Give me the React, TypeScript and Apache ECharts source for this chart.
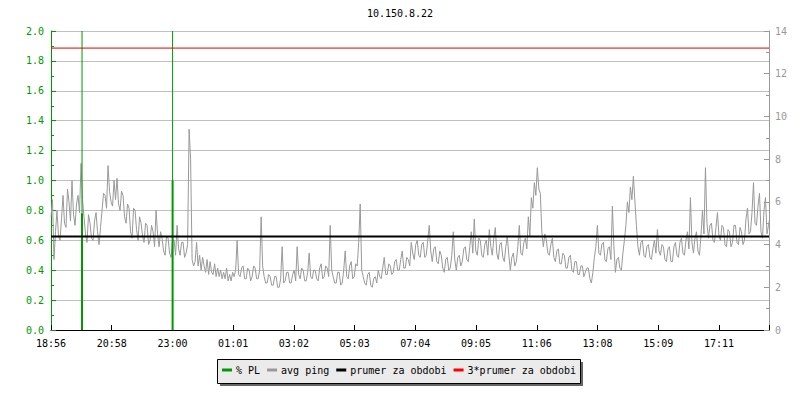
import React, { useEffect, useRef } from "react";
import * as echarts from "echarts";

const title = "10.150.8.22";
const tickLabels = ["18:56", "20:58", "23:00", "01:01", "03:02", "05:03", "07:04", "09:05", "11:06", "13:08", "15:09", "17:11"];
const tickStepMin = 121.36;
const spanMin = 1435;
const sampleStepMin = 3;

// avg ping (ms), one sample every 3 minutes from 18:56
const avgPing = [
  5.3, 6.1, 3.3, 4.6, 5.6, 4.4, 4.2, 5.2, 6.3, 5.0,
  4.8, 6.6, 6.0, 5.1, 7.0, 5.4, 4.9, 5.9, 6.3, 5.5,
  7.8, 6.1, 5.3, 4.5, 4.1, 5.4, 5.0, 4.3, 4.2, 5.1,
  5.5, 4.6, 4.0, 4.8, 5.6, 6.4, 6.3, 5.7, 7.7, 6.5,
  6.0, 5.8, 7.0, 6.1, 7.1, 5.9, 5.6, 6.5, 6.3, 5.3,
  5.0, 5.9, 5.7, 4.6, 4.3, 5.7, 5.6, 4.7, 4.2, 5.3,
  5.0, 4.4, 4.1, 5.0, 4.9, 4.0, 4.2, 4.9, 4.6, 3.9,
  5.6, 4.5, 3.9, 4.6, 4.3, 3.7, 3.5, 4.4, 4.3, 3.6,
  3.4, 4.2, 4.2, 3.5, 4.9, 3.8, 3.5, 4.1, 4.1, 3.4,
  3.6, 4.0, 9.4, 8.0, 3.3, 3.0, 3.2, 4.1, 3.0, 3.5,
  2.8, 3.4, 3.0, 2.7, 3.3, 2.6, 3.2, 2.7, 2.6, 3.1,
  2.5, 2.9, 2.5, 2.8, 2.4, 2.7, 2.4, 2.9, 2.3, 2.6,
  2.3, 2.7, 2.5, 2.8, 4.2, 2.6, 2.5, 2.9, 3.0, 2.4,
  2.4, 2.9, 2.8, 2.3, 2.5, 3.0, 2.9, 2.4, 2.4, 2.8,
  5.3, 3.0, 2.5, 2.2, 2.2, 2.6, 2.5, 2.1, 2.1, 2.5,
  2.5, 2.0, 2.0, 2.4, 3.9, 2.2, 2.3, 2.7, 2.7, 2.2,
  2.2, 2.6, 2.8, 2.3, 3.9, 2.6, 2.4, 2.9, 2.8, 2.3,
  2.3, 2.7, 3.6, 2.5, 2.4, 2.8, 2.8, 2.4, 2.3, 2.9,
  3.1, 2.4, 2.5, 3.0, 2.9, 2.5, 4.9, 2.8, 2.5, 2.2,
  2.2, 2.7, 2.7, 2.1, 2.2, 2.8, 3.7, 2.5, 2.4, 3.0,
  3.2, 2.4, 2.5, 3.1, 3.0, 4.1, 5.9, 2.8, 2.5, 2.2,
  2.1, 2.6, 2.7, 2.1, 2.0, 2.4, 2.5, 2.2, 2.8, 2.5,
  2.4, 2.9, 3.4, 2.6, 2.6, 3.1, 3.0, 2.6, 2.7, 3.2,
  3.3, 2.8, 2.8, 3.3, 3.7, 2.9, 2.9, 3.4, 3.3, 3.0,
  4.1, 3.6, 3.3, 4.0, 4.2, 3.5, 3.4, 4.0, 4.1, 3.4,
  3.5, 4.2, 4.9, 3.7, 3.2, 3.8, 3.9, 3.2, 3.1, 3.7,
  3.5, 2.9, 2.7, 3.3, 3.4, 2.8, 2.9, 3.5, 4.6, 3.3,
  2.8, 3.4, 3.5, 3.0, 3.2, 3.8, 3.9, 3.3, 3.2, 3.9,
  4.6, 3.6, 5.2, 3.7, 3.5, 4.3, 4.2, 3.5, 3.4, 4.0,
  4.2, 3.5, 4.7, 3.9, 3.5, 4.3, 4.8, 3.6, 3.3, 4.0,
  4.1, 3.4, 3.2, 3.9, 4.4, 3.5, 2.8, 3.4, 3.6, 3.0,
  3.2, 3.9, 4.9, 3.6, 3.5, 4.1, 4.3, 3.8, 5.3, 4.4,
  6.2, 5.7, 6.9, 6.3, 7.6, 6.6, 6.4, 4.6, 3.9, 4.5,
  4.2, 3.6, 3.5, 4.0, 4.3, 3.4, 3.2, 3.7, 3.8, 3.1,
  3.1, 3.6, 3.5, 2.9, 2.9, 3.4, 3.5, 2.8, 2.7, 3.2,
  3.2, 2.6, 2.6, 3.0, 3.0, 2.5, 2.7, 2.9, 2.9, 2.4,
  2.2, 2.7, 3.4, 3.9, 4.9, 3.6, 3.5, 4.0, 4.1, 3.3,
  3.2, 3.8, 3.9, 3.3, 5.8, 3.9, 2.7, 3.3, 3.4, 2.9,
  2.8, 3.6, 4.2, 4.9, 6.0, 5.5, 6.7, 6.1, 7.2, 6.0,
  4.9, 3.9, 3.5, 4.1, 4.2, 3.5, 3.4, 3.9, 4.0, 3.4,
  3.3, 3.8, 4.2, 3.6, 4.7, 3.7, 3.5, 4.0, 3.9, 3.3,
  3.2, 3.8, 3.9, 3.2, 3.2, 3.9, 4.1, 3.5, 3.4, 4.1,
  4.3, 3.6, 3.5, 4.2, 4.6, 3.8, 6.2, 4.1, 3.6, 4.3,
  4.6, 3.7, 3.5, 4.4, 5.6, 4.5, 7.6, 5.0, 4.3, 4.9,
  5.0, 4.2, 4.1, 4.8, 5.5, 4.4, 4.2, 4.9, 4.8, 4.0,
  3.9, 4.7, 4.6, 3.9, 4.1, 4.9, 4.9, 4.1, 4.0, 4.8,
  4.6, 4.0, 4.2, 5.2, 5.7, 4.5, 4.6, 5.5, 6.9, 5.0,
  4.9, 5.8, 6.4, 4.6, 4.3, 5.6, 6.2, 4.5, 4.9, 5.3,
];

// packet loss events (minutes from start, %)
const plTimes = [62, 243];
const plPeak = [2.0, 2.0];
const plSecond = [0.78, 1.0];

const prumer = 4.38;
const prumer3 = 13.2;

const legendNames = ["% PL", "avg ping", "prumer za obdobi", "3*prumer za obdobi"];

const FONT = "DejaVu Sans Mono";
const GREEN = "#009900";
const GRAY = "#999999";

export default function App() {
  const ref = useRef<HTMLDivElement>(null);
  useEffect(() => {
    if (!ref.current) return;
    const chart = echarts.init(ref.current, undefined, { renderer: "svg" });
    const pingData = avgPing.map((v, i) => [i * sampleStepMin, v]);
    const plSeries: any[] = [];
    plTimes.forEach((t, i) => {
      plSeries.push({
        name: "% PL",
        type: "line",
        yAxisIndex: 0,
        data: [[t, 0], [t, plPeak[i]]],
        showSymbol: false,
        symbol: "none",
        lineStyle: { color: GREEN, width: 1 },
        itemStyle: { color: GREEN },
        z: 3,
      });
      plSeries.push({
        name: "% PL",
        type: "line",
        yAxisIndex: 0,
        data: [[t, 0], [t, plSecond[i]]],
        showSymbol: false,
        symbol: "none",
        lineStyle: { color: GREEN, width: 2 },
        itemStyle: { color: GREEN },
        z: 3,
      });
    });
    const option = {
      animation: false,
      backgroundColor: "#ffffff",
      title: {
        text: title,
        left: "center",
        top: 3,
        textStyle: { fontFamily: FONT, fontSize: 10, fontWeight: "normal", color: "#000" },
      },
      grid: { left: 51, right: 31, top: 31, bottom: 70, containLabel: false },
      graphic: [
        { type: "rect", left: 220, top: 362, shape: { width: 363, height: 24 }, style: { fill: "#666666" }, z: 0 },
        { type: "rect", left: 217, top: 359, shape: { width: 363, height: 24 }, style: { fill: "#ebebeb", stroke: "#000", lineWidth: 1 }, z: 1 },
      ],
      legend: {
        data: legendNames,
        left: 222,
        top: 365,
        padding: 0,
        icon: "rect",
        itemWidth: 10,
        itemHeight: 3,
        itemGap: 7,
        z: 5,
        textStyle: { fontFamily: FONT, fontSize: 10, color: "#000", padding: [0, 0, 0, -1] },
      },
      xAxis: {
        type: "value",
        min: 0,
        max: spanMin,
        interval: tickStepMin,
        axisLine: { lineStyle: { color: "#000", width: 1 } },
        axisTick: { inside: true, length: 5, lineStyle: { color: "#000" } },
        axisLabel: {
          fontFamily: FONT,
          fontSize: 10,
          color: "#000",
          margin: 8,
          formatter: (v: number) => tickLabels[Math.round(v / tickStepMin)] ?? "",
        },
        splitLine: { show: false },
      },
      yAxis: [
        {
          type: "value",
          min: 0,
          max: 2,
          interval: 0.2,
          position: "left",
          axisLine: { show: true, lineStyle: { color: GREEN, width: 1 } },
          axisTick: { show: true, inside: true, length: 5, lineStyle: { color: GREEN } },
          minorTick: { show: true, splitNumber: 2, length: 3, lineStyle: { color: GREEN } },
          axisLabel: { fontFamily: FONT, fontSize: 10, color: GREEN, margin: 7, formatter: (v: number) => v.toFixed(1) },
          splitLine: { show: true, lineStyle: { color: "#c0c0c0", width: 1 } },
        },
        {
          type: "value",
          min: 0,
          max: 14,
          interval: 2,
          position: "right",
          axisLine: { show: true, lineStyle: { color: GRAY, width: 1 } },
          axisTick: { show: true, inside: true, length: 5, lineStyle: { color: GRAY } },
          minorTick: { show: true, splitNumber: 2, length: 3, lineStyle: { color: GRAY } },
          axisLabel: { fontFamily: FONT, fontSize: 10, color: GRAY, margin: 6 },
          splitLine: { show: false },
        },
      ],
      series: [
        {
          name: "avg ping",
          type: "line",
          yAxisIndex: 1,
          data: pingData,
          showSymbol: false,
          symbol: "none",
          lineStyle: { color: GRAY, width: 1 },
          itemStyle: { color: GRAY },
          z: 2,
        },
        ...plSeries,
        {
          name: "prumer za obdobi",
          type: "line",
          yAxisIndex: 1,
          data: [[0, prumer], [spanMin, prumer]],
          showSymbol: false,
          symbol: "none",
          lineStyle: { color: "#000", width: 2 },
          itemStyle: { color: "#000" },
          z: 4,
        },
        {
          name: "3*prumer za obdobi",
          type: "line",
          yAxisIndex: 1,
          data: [[0, prumer3], [spanMin, prumer3]],
          showSymbol: false,
          symbol: "none",
          lineStyle: { color: "#e00000", width: 1 },
          itemStyle: { color: "#ff0000" },
          z: 4,
        },
      ],
    };
    chart.setOption(option as any);
    return () => chart.dispose();
  }, []);
  return <div ref={ref} style={{ position: "fixed", left: 0, top: 0, width: 800, height: 400 }} />;
}
